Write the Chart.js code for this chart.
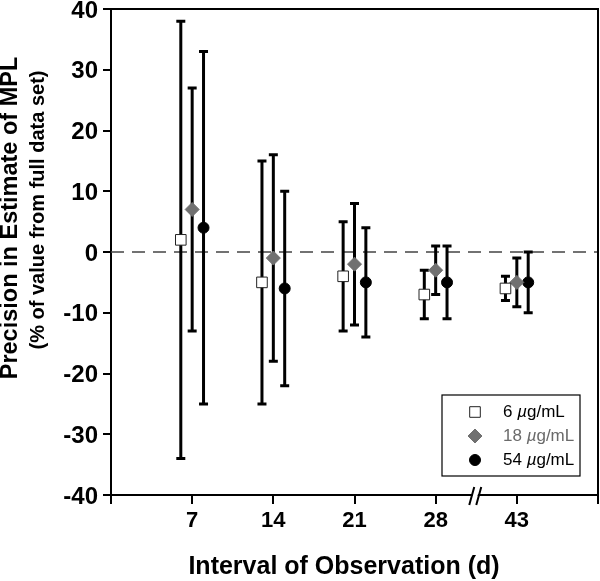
<!DOCTYPE html>
<html>
<head>
<meta charset="utf-8">
<script src="https://cdn.jsdelivr.net/npm/chart.js@4.4.1/dist/chart.umd.min.js"></script>
<style>
  html, body { margin: 0; padding: 0; background: #fff; }
  #wrap { width: 600px; height: 581px; }
</style>
</head>
<body>
<div id="wrap"><canvas id="mplChart" width="600" height="581"></canvas></div>
<script>
// interval labels, one slot per category (slot 0 and 6 are empty padding)
const intervals = ['7', '14', '21', '28', '43'];

// 6 ug/mL
const mean6 = [2, -5, -4, -7, -6];
const low6 = [-34, -25, -13, -11, -8];
const high6 = [38, 15, 5, -3, -4];

// 18 ug/mL
const mean18 = [7, -1, -2, -3, -5];
const low18 = [-13, -18, -12, -7, -9];
const high18 = [27, 16, 8, 1, -1];

// 54 ug/mL
const mean54 = [4, -6, -5, -5, -5];
const low54 = [-25, -22, -14, -11, -10];
const high54 = [33, 10, 4, 1, 0];

const yTicks = [-40, -30, -20, -10, 0, 10, 20, 30, 40];

const FONT = "'Liberation Sans', Arial, Helvetica, sans-serif";

function makePoints(means, lows, highs, offset) {
  return means.map((m, i) => ({ x: i + 1 + offset, y: m, lo: lows[i], hi: highs[i] }));
}

const errorBars = {
  id: 'errorBars',
  beforeDatasetsDraw(chart) {
    const { ctx, chartArea, scales: { x, y } } = chart;
    // dashed zero line
    ctx.save();
    ctx.strokeStyle = '#444';
    ctx.lineWidth = 1.5;
    ctx.setLineDash([13, 8]);
    ctx.beginPath();
    ctx.moveTo(chartArea.left, y.getPixelForValue(0));
    ctx.lineTo(chartArea.right, y.getPixelForValue(0));
    ctx.stroke();
    ctx.restore();

    ctx.save();
    ctx.strokeStyle = '#000';
    ctx.lineWidth = 3;
    chart.data.datasets.forEach(ds => {
      ds.data.forEach(p => {
        const px = x.getPixelForValue(p.x);
        const top = y.getPixelForValue(p.hi);
        const bot = y.getPixelForValue(p.lo);
        ctx.beginPath();
        ctx.moveTo(px, top);
        ctx.lineTo(px, bot);
        ctx.moveTo(px - 4.5, top);
        ctx.lineTo(px + 4.5, top);
        ctx.moveTo(px - 4.5, bot);
        ctx.lineTo(px + 4.5, bot);
        ctx.stroke();
      });
    });
    ctx.restore();
  },
  afterDraw(chart) {
    const { ctx, chartArea, scales: { x } } = chart;
    ctx.save();
    // frame top + right
    ctx.strokeStyle = '#000';
    ctx.lineWidth = 2;
    ctx.beginPath();
    ctx.moveTo(chartArea.left, chartArea.top);
    ctx.lineTo(chartArea.right, chartArea.top);
    ctx.lineTo(chartArea.right, chartArea.bottom + 2);
    ctx.stroke();

    // axis break between 28 and 43
    const bx = x.getPixelForValue(4.5);
    const by = chartArea.bottom;
    ctx.fillStyle = '#fff';
    ctx.beginPath();
    ctx.moveTo(bx - 6, by + 9);
    ctx.lineTo(bx - 1, by - 9);
    ctx.lineTo(bx + 4, by - 9);
    ctx.lineTo(bx - 1, by + 9);
    ctx.closePath();
    ctx.fill();
    ctx.lineWidth = 2;
    ctx.beginPath();
    ctx.moveTo(bx - 7, by + 10);
    ctx.lineTo(bx - 2, by - 8);
    ctx.moveTo(bx, by + 10);
    ctx.lineTo(bx + 5, by - 8);
    ctx.stroke();

    // axis titles
    ctx.fillStyle = '#000';
    ctx.textAlign = 'center';
    ctx.textBaseline = 'middle';
    ctx.save();
    ctx.translate(11, chartArea.top + 209);
    ctx.rotate(-Math.PI / 2);
    ctx.font = 'bold 23.5px ' + FONT;
    ctx.fillText('Precision in Estimate of MPL', 0, 0);
    ctx.restore();
    ctx.save();
    ctx.translate(38, chartArea.top + 201);
    ctx.rotate(-Math.PI / 2);
    ctx.font = 'bold 20px ' + FONT;
    ctx.fillText('(% of value from full data set)', 0, 0);
    ctx.restore();

    ctx.textBaseline = 'alphabetic';
    ctx.font = 'bold 25px ' + FONT;
    ctx.fillText('Interval of Observation (d)', 344, 574);

    // legend
    const lw = 138, lh = 81;
    const lx = chartArea.right - 18 - lw;
    const ly = chartArea.bottom - 19 - lh;
    ctx.lineWidth = 1.2;
    ctx.strokeRect(lx, ly, lw, lh);
    ctx.textAlign = 'left';
    ctx.textBaseline = 'middle';
    chart.data.datasets.forEach((ds, i) => {
      const cy = ly + 17 + i * 24;
      ctx.fillStyle = ds.backgroundColor;
      ctx.strokeStyle = ds.borderColor;
      ctx.lineWidth = ds.borderWidth;
      Chart.helpers.drawPoint(ctx, { pointStyle: ds.pointStyle, radius: ds.pointRadius, borderWidth: ds.borderWidth, rotation: 0 }, lx + 33, cy);
      let tx = lx + 61;
      ctx.fillStyle = ds.labelColor;
      const parts = ds.label.split('µ');
      ctx.font = '17px ' + FONT;
      ctx.fillText(parts[0], tx, cy);
      tx += ctx.measureText(parts[0]).width;
      ctx.font = 'italic 17px ' + FONT;
      ctx.fillText('µ', tx, cy);
      tx += ctx.measureText('µ').width;
      ctx.font = '17px ' + FONT;
      ctx.fillText(parts[1], tx, cy);
    });
    ctx.restore();
  }
};

new Chart(document.getElementById('mplChart'), {
  type: 'scatter',
  data: {
    datasets: [{
      label: '6 µg/mL',
      data: makePoints(mean6, low6, high6, -0.14),
      pointStyle: 'rect',
      pointRadius: 7.5,
      backgroundColor: '#fff',
      borderColor: '#222',
      borderWidth: 1,
      labelColor: '#000'
    }, {
      label: '18 µg/mL',
      data: makePoints(mean18, low18, high18, 0),
      pointStyle: 'rectRot',
      pointRadius: 7,
      backgroundColor: '#707070',
      borderColor: '#707070',
      borderWidth: 1,
      labelColor: '#6a6a6a'
    }, {
      label: '54 µg/mL',
      data: makePoints(mean54, low54, high54, 0.14),
      pointStyle: 'circle',
      pointRadius: 5.5,
      backgroundColor: '#000',
      borderColor: '#000',
      borderWidth: 1,
      labelColor: '#000'
    }]
  },
  options: {
    responsive: false,
    animation: false,
    layout: { autoPadding: false, padding: { top: 9, right: 2, left: 0, bottom: 0 } },
    plugins: {
      legend: { display: false },
      tooltip: { enabled: false }
    },
    scales: {
      x: {
        type: 'linear',
        min: 0,
        max: 6,
        afterFit: scale => {
          scale.height = 86;
          scale.paddingLeft = 0;
          scale.paddingRight = 0;
        },
        afterBuildTicks: scale => { scale.ticks = [0, 1, 2, 3, 4, 5, 6].map(v => ({ value: v })); },
        ticks: {
          color: '#000',
          font: { family: FONT, size: 22, weight: 'bold' },
          padding: 4,
          maxRotation: 0,
          callback: v => intervals[v - 1] || ''
        },
        grid: { drawOnChartArea: false, drawTicks: true, tickLength: 9, color: '#000', lineWidth: 2 },
        border: { color: '#000', width: 2 }
      },
      y: {
        min: -40,
        max: 40,
        afterFit: scale => {
          scale.width = 111;
          scale.paddingTop = 0;
          scale.paddingBottom = 0;
        },
        afterBuildTicks: scale => { scale.ticks = yTicks.map(v => ({ value: v })); },
        ticks: {
          color: '#000',
          font: { family: FONT, size: 24, weight: 'bold' },
          padding: 5,
          labelOffset: 2
        },
        grid: { drawOnChartArea: false, drawTicks: true, tickLength: 8, color: '#000', lineWidth: 2 },
        border: { color: '#000', width: 2 }
      }
    }
  },
  plugins: [errorBars]
});
</script>
</body>
</html>
